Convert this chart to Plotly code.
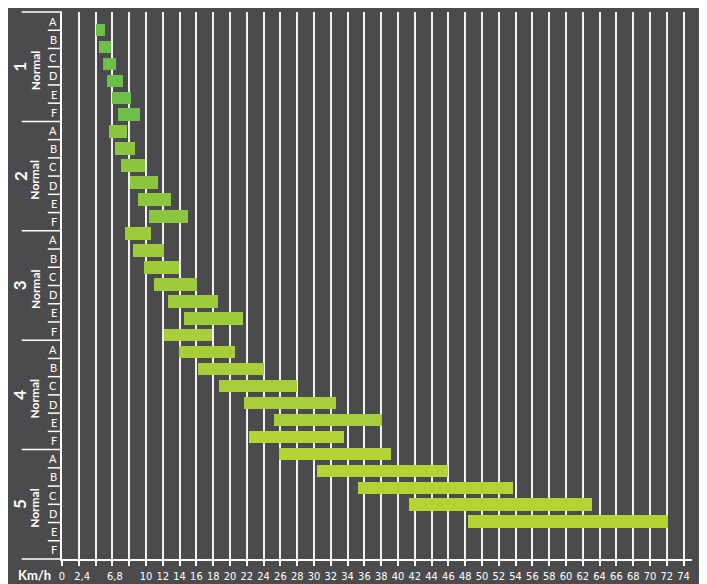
import plotly.graph_objects as go

# ---- data ----
groups = ["1", "2", "3", "4", "5"]
group_sub = "Normal"
rows = ["A", "B", "C", "D", "E", "F"]

bar_start = [4.0, 4.4, 4.9, 5.35, 5.95, 6.65,
             5.55, 6.3, 7.0, 8.05, 9.05, 10.35,
             7.5, 8.45, 9.75, 10.95, 12.6, 14.5,
             12.1, 13.95, 16.2, 18.7, 21.7, 25.25,
             22.3, 25.85, 30.3, 35.2, 41.25, 48.3]
bar_end = [5.1, 5.8, 6.4, 7.25, 8.2, 9.25,
           7.7, 8.7, 9.85, 11.4, 12.95, 15.0,
           10.6, 12.15, 13.95, 16.1, 18.6, 21.55,
           17.85, 20.6, 24.05, 28.0, 32.65, 38.15,
           33.6, 39.2, 45.9, 53.65, 63.1, 72.2]
group_colors = ["#6cbf47", "#8cc63f", "#9dcb3b", "#a8cf39", "#b4d335"]

x_tick_vals = [0, 2.4, 6.3, 10, 12, 14, 16, 18, 20, 22, 24, 26, 28, 30, 32, 34,
               36, 38, 40, 42, 44, 46, 48, 50, 52, 54, 56, 58, 60, 62, 64, 66,
               68, 70, 72, 74]
x_tick_text = ["0", "2,4", "6,8", "10", "12", "14", "16", "18", "20", "22", "24",
               "26", "28", "30", "32", "34", "36", "38", "40", "42", "44", "46",
               "48", "50", "52", "54", "56", "58", "60", "62", "64", "66", "68",
               "70", "72", "74"]
unit_label = "Km/h"

# ---- figure ----
BG = "#4b4b4d"
FONT = "Liberation Sans Narrow, DejaVu Sans Condensed, Arial Narrow, sans-serif"
n_rows = len(groups) * len(rows)

bar_idx = list(range(n_rows))
colors = [group_colors[i // len(rows)] for i in bar_idx]
widths = [e - s for s, e in zip(bar_start, bar_end)]

fig = go.Figure()
fig.add_trace(go.Bar(
    orientation="h",
    y=bar_idx,
    x=widths,
    base=bar_start,
    width=0.74,
    marker=dict(color=colors, line=dict(width=0)),
    hoverinfo="skip",
    showlegend=False,
))


def py(k):
    """paper y of label-row boundary k (0 = top)."""
    return 1 - k / n_rows


shapes = []
annotations = []
for gi, g in enumerate(groups):
    top = gi * len(rows)
    shapes.append(dict(type="line", xref="paper", yref="paper",
                       x0=-0.064, x1=0, y0=py(top), y1=py(top),
                       line=dict(color="white", width=1.5), layer="above"))
    for ri, r in enumerate(rows):
        k = top + ri
        if ri > 0:
            shapes.append(dict(type="line", xref="paper", yref="paper",
                               x0=-0.0225, x1=0, y0=py(k), y1=py(k),
                               line=dict(color="white", width=1.5), layer="above"))
        annotations.append(dict(text=r, xref="paper", yref="paper", x=0, y=py(k + 0.5),
                                xanchor="right", yanchor="middle", xshift=-3,
                                showarrow=False,
                                font=dict(family="Lato, Open Sans, sans-serif",
                                          size=11, color="white")))
    annotations.append(dict(text="<b>" + g + "</b>", xref="paper", yref="paper",
                            x=-0.067, y=py(top + 3), xanchor="center", yanchor="middle",
                            textangle=-90, showarrow=False,
                            font=dict(family="Lato, sans-serif", size=17, color="white")))
    annotations.append(dict(text="<b>" + group_sub + "</b>", xref="paper", yref="paper",
                            x=-0.043, y=py(top + 3.2), xanchor="center", yanchor="middle",
                            textangle=-90, showarrow=False,
                            font=dict(family="Lato, sans-serif", size=12, color="white")))
shapes.append(dict(type="line", xref="paper", yref="paper",
                   x0=-0.064, x1=0, y0=0, y1=0,
                   line=dict(color="white", width=1.5), layer="above"))

annotations.append(dict(text="<b>" + unit_label + "</b>", xref="paper", yref="paper",
                        x=-0.044, y=-0.03, xanchor="center", yanchor="middle",
                        showarrow=False,
                        font=dict(family="Lato, sans-serif", size=13, color="white")))

fig.update_layout(
    width=707, height=584,
    margin=dict(l=54, r=23, t=4, b=33, autoexpand=False),
    paper_bgcolor=BG, plot_bgcolor=BG,
    bargap=0,
    shapes=shapes,
    annotations=annotations,
    xaxis=dict(
        range=[0, 75], automargin=False,
        tickmode="array", tickvals=x_tick_vals, ticktext=x_tick_text,
        ticks="", showgrid=False, zeroline=False,
        showline=True, linecolor="white", linewidth=1.5,
        tickfont=dict(family=FONT, size=11, color="white"),
        ticklabelstandoff=6,
        minor=dict(tick0=0, dtick=2, ticks="outside", ticklen=5,
                   tickcolor="white", tickwidth=1.5,
                   showgrid=True, gridcolor="#f2f2f2", gridwidth=1.6),
        fixedrange=True,
    ),
    yaxis=dict(
        range=[31.2, -1.06], automargin=False,
        showgrid=False, zeroline=False,
        showticklabels=False, ticks="",
        showline=True, linecolor="white", linewidth=1.5,
        fixedrange=True,
    ),
)

fig.write_html("out.html")
